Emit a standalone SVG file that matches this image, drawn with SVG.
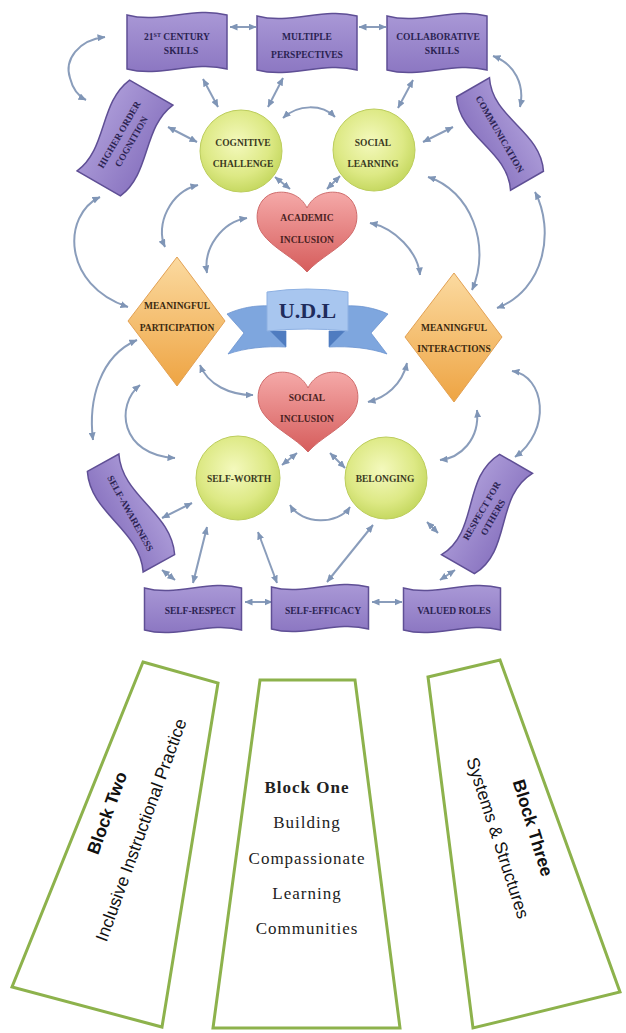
<svg xmlns="http://www.w3.org/2000/svg" width="626" height="1033" viewBox="0 0 626 1033">
  <defs>
    <linearGradient id="gPurple" x1="0" y1="0" x2="0" y2="1">
      <stop offset="0" stop-color="#a998d6"/>
      <stop offset="1" stop-color="#8c77c2"/>
    </linearGradient>
    <radialGradient id="gCircle" cx="0.45" cy="0.4" r="0.62">
      <stop offset="0" stop-color="#f4f9bd"/>
      <stop offset="0.65" stop-color="#dde985"/>
      <stop offset="1" stop-color="#c4d75e"/>
    </radialGradient>
    <linearGradient id="gHeart" x1="0" y1="0" x2="0" y2="1">
      <stop offset="0" stop-color="#f5a9a8"/>
      <stop offset="1" stop-color="#d65d5c"/>
    </linearGradient>
    <linearGradient id="gDiamond" x1="0" y1="0" x2="0" y2="1">
      <stop offset="0" stop-color="#fbdaa0"/>
      <stop offset="1" stop-color="#eea443"/>
    </linearGradient>
    <marker id="ah" viewBox="0 0 8 7" refX="7.5" refY="3.5" markerWidth="8" markerHeight="7" markerUnits="userSpaceOnUse" orient="auto-start-reverse">
      <path d="M0,0 L8,3.5 L0,7 Z" fill="#7f95b6"/>
    </marker>
  </defs>
  <style>
    .arr{fill:none;stroke:#8a9dbb;stroke-width:2;marker-start:url(#ah);marker-end:url(#ah)}
    .ban{fill:url(#gPurple);stroke:#5f4f95;stroke-width:1.5}
    .cir{fill:url(#gCircle);stroke:#bccd5c;stroke-width:1}
    .hrt{fill:url(#gHeart);stroke:#cf6b6b;stroke-width:1}
    .dia{fill:url(#gDiamond);stroke:#e2a154;stroke-width:1}
    .lbl{font-family:"Liberation Serif",serif;font-weight:bold;font-size:9.5px;text-anchor:middle}
    .tp{fill:#2b2352}
    .tc{fill:#3b3a22}
    .th{fill:#4a2222}
    .td{fill:#3d2a10}
    .blk{fill:#fff;stroke:#8db24c;stroke-width:3;stroke-linejoin:miter}
    .ser{font-family:"Liberation Serif",serif;font-size:17px;letter-spacing:1px;text-anchor:middle;fill:#222}
    .sans{font-family:"Liberation Sans",sans-serif;font-size:17.5px;text-anchor:middle;fill:#111}
  </style>

  <rect width="626" height="1033" fill="#ffffff"/>

  <!-- connectors -->
  <g id="connectors">
    <path class="arr" d="M230,27 L256,27"/>
    <path class="arr" d="M359,27 L386,27"/>
    <path class="arr" d="M203,79 L218,107"/>
    <path class="arr" d="M283,78 L268,107"/>
    <path class="arr" d="M168,127 L197,142"/>
    <path class="arr" d="M413,80 L398,108"/>
    <path class="arr" d="M453,127 L423,142"/>
    <path class="arr" d="M275,177 L290,189"/>
    <path class="arr" d="M340,176 L327,189"/>
    <path class="arr" d="M297,453 L282,465"/>
    <path class="arr" d="M330,453 L345,468"/>
    <path class="arr" d="M192,503 L162,518"/>
    <path class="arr" d="M207,527 L193,583"/>
    <path class="arr" d="M258,532 L277,583"/>
    <path class="arr" d="M373,525 L327,582"/>
    <path class="arr" d="M427,522 L438,533"/>
    <path class="arr" d="M162,570 L175,580"/>
    <path class="arr" d="M455,570 L440,580"/>
    <path class="arr" d="M245,602 L272,602"/>
    <path class="arr" d="M372,602 L402,602"/>

    <path class="arr" d="M105,37 C78,40 64,60 70,78 C73,90 78,96 86,100"/>
    <path class="arr" d="M493,56 C515,64 525,85 520,107"/>
    <path class="arr" d="M283,118 C298,104 322,104 335,117"/>
    <path class="arr" d="M198,185 C170,192 155,225 165,247"/>
    <path class="arr" d="M247,218 C222,222 203,248 207,273"/>
    <path class="arr" d="M370,223 C395,228 418,252 420,275"/>
    <path class="arr" d="M428,177 C470,190 492,245 472,290"/>
    <path class="arr" d="M535,192 C555,230 545,290 497,308"/>
    <path class="arr" d="M100,197 C62,215 62,285 128,307"/>
    <path class="arr" d="M512,371 C545,376 552,430 515,457"/>
    <path class="arr" d="M137,340 C100,356 88,400 93,440"/>
    <path class="arr" d="M140,385 C115,405 120,455 175,458"/>
    <path class="arr" d="M200,365 C208,385 230,395 253,395"/>
    <path class="arr" d="M407,363 C402,385 385,398 368,402"/>
    <path class="arr" d="M477,410 C480,440 460,458 440,460"/>
    <path class="arr" d="M290,505 C302,525 338,525 350,507"/>
  </g>

  <!-- top banners -->
  <g id="century-skills" transform="translate(177,42)">
    <path class="ban" d="M-50,-27 C-16.7,-18 16.7,-36 50,-27 L50,27 C16.7,18 -16.7,36 -50,27 Z"/>
    <text class="lbl tp" x="0" y="-2">21<tspan font-size="6" dy="-3">ST</tspan><tspan dy="3"> CENTURY</tspan></text>
    <text class="lbl tp" x="4" y="12">SKILLS</text>
  </g>
  <g id="multiple-perspectives" transform="translate(307,43)">
    <path class="ban" d="M-50,-27 C-16.7,-18 16.7,-36 50,-27 L50,27 C16.7,18 -16.7,36 -50,27 Z"/>
    <text class="lbl tp" x="0" y="-3">MULTIPLE</text>
    <text class="lbl tp" x="0" y="15">PERSPECTIVES</text>
  </g>
  <g id="collaborative-skills" transform="translate(437,43)">
    <path class="ban" d="M-50,-27 C-16.7,-18 16.7,-36 50,-27 L50,27 C16.7,18 -16.7,36 -50,27 Z"/>
    <text class="lbl tp" x="1" y="-3">COLLABORATIVE</text>
    <text class="lbl tp" x="5" y="11">SKILLS</text>
  </g>

  <!-- side banners -->
  <g id="higher-order-cognition" transform="translate(125,138) rotate(-60)">
    <path class="ban" d="M-52.5,-25 C-17.5,-10 17.5,-40 52.5,-25 L52.5,25 C17.5,10 -17.5,40 -52.5,25 Z"/>
    <text class="lbl tp" x="0" y="-3.5">HIGHER ORDER</text>
    <text class="lbl tp" x="0" y="10.5">COGNITION</text>
  </g>
  <g id="communication" transform="translate(500,134) rotate(60)">
    <path class="ban" d="M-54,-19 C-18,-1 18,-37 54,-19 L54,19 C18,1 -18,37 -54,19 Z"/>
    <text class="lbl tp" x="0" y="3.5">COMMUNICATION</text>
  </g>
  <g id="self-awareness" transform="translate(131,513) rotate(61)">
    <path class="ban" d="M-57.5,-18 C-19,0 19,-36 57.5,-18 L57.5,18 C19,0 -19,36 -57.5,18 Z"/>
    <text class="lbl tp" x="0" y="4">SELF-AWARENESS</text>
  </g>
  <g id="respect-for-others" transform="translate(487,514) rotate(-60)">
    <path class="ban" d="M-58,-19 C-19.3,2 19.3,-40 58,-19 L58,19 C19.3,-2 -19.3,40 -58,19 Z"/>
    <text class="lbl tp" x="0" y="-3">RESPECT FOR</text>
    <text class="lbl tp" x="0" y="10">OTHERS</text>
  </g>

  <!-- bottom banners -->
  <g id="self-respect" transform="translate(193,609)">
    <path class="ban" d="M-48.5,-21 C-16.2,-12 16.2,-30 48.5,-21 L48.5,21 C16.2,12 -16.2,30 -48.5,21 Z"/>
    <text class="lbl tp" x="7" y="4.5">SELF-RESPECT</text>
  </g>
  <g id="self-efficacy" transform="translate(320,608)">
    <path class="ban" d="M-48.5,-21 C-16.2,-12 16.2,-30 48.5,-21 L48.5,21 C16.2,12 -16.2,30 -48.5,21 Z"/>
    <text class="lbl tp" x="3" y="5.5">SELF-EFFICACY</text>
  </g>
  <g id="valued-roles" transform="translate(452,609)">
    <path class="ban" d="M-48.5,-21 C-16.2,-12 16.2,-30 48.5,-21 L48.5,21 C16.2,12 -16.2,30 -48.5,21 Z"/>
    <text class="lbl tp" x="2" y="4.5">VALUED ROLES</text>
  </g>

  <!-- circles -->
  <g id="cognitive-challenge">
    <circle class="cir" cx="241" cy="151" r="41"/>
    <text class="lbl tc" x="243" y="145.5">COGNITIVE</text>
    <text class="lbl tc" x="243" y="166.5">CHALLENGE</text>
  </g>
  <g id="social-learning">
    <circle class="cir" cx="374" cy="150" r="41"/>
    <text class="lbl tc" x="373" y="145.5">SOCIAL</text>
    <text class="lbl tc" x="373" y="166.5">LEARNING</text>
  </g>
  <g id="self-worth">
    <circle class="cir" cx="238" cy="478" r="42"/>
    <text class="lbl tc" x="239" y="481.5">SELF-WORTH</text>
  </g>
  <g id="belonging">
    <circle class="cir" cx="386" cy="478" r="41"/>
    <text class="lbl tc" x="385" y="481.5">BELONGING</text>
  </g>

  <!-- hearts -->
  <g id="academic-inclusion" transform="translate(307,192)">
    <path class="hrt" d="M0,16 C-6,3 -20,-2 -33,1 C-49,5 -55,26 -45,41 C-35,56 -12,66 0,80 C12,66 35,56 45,41 C55,26 49,5 33,1 C20,-2 6,3 0,16 Z"/>
    <text class="lbl th" x="0" y="28.5">ACADEMIC</text>
    <text class="lbl th" x="0" y="50.5">INCLUSION</text>
  </g>
  <g id="social-inclusion" transform="translate(308,372)">
    <path class="hrt" d="M0,16 C-6,3 -20,-2 -33,1 C-49,5 -55,26 -45,41 C-35,56 -12,66 0,80 C12,66 35,56 45,41 C55,26 49,5 33,1 C20,-2 6,3 0,16 Z"/>
    <text class="lbl th" x="-1" y="28.5">SOCIAL</text>
    <text class="lbl th" x="-1" y="49.5">INCLUSION</text>
  </g>

  <!-- diamonds -->
  <g id="meaningful-participation">
    <path class="dia" d="M177,257 L225,321 L177,386 L128,321 Z"/>
    <text class="lbl td" x="177" y="308.5">MEANINGFUL</text>
    <text class="lbl td" x="177" y="330.5">PARTICIPATION</text>
  </g>
  <g id="meaningful-interactions">
    <path class="dia" d="M454,273 L502,337 L454,402 L405,337 Z"/>
    <text class="lbl td" x="454" y="330.5">MEANINGFUL</text>
    <text class="lbl td" x="454" y="351.5">INTERACTIONS</text>
  </g>

  <!-- central ribbon -->
  <g id="udl">
    <path d="M270,306 C255,305 240,308 227,314 L244,333 L228,354 C245,348 265,346 286,347 L286,331 L270,331 Z" fill="#7ea6de" stroke="#6b93cf" stroke-width="0.8"/>
    <path d="M270,331 L286,331 L286,347 Z" fill="#4f7cc0"/>
    <path d="M345,306 C360,305 375,308 388,314 L371,333 L387,354 C370,348 350,346 329,347 L329,331 L345,331 Z" fill="#7ea6de" stroke="#6b93cf" stroke-width="0.8"/>
    <path d="M345,331 L329,331 L329,347 Z" fill="#4f7cc0"/>
    <path d="M267,292 Q307,286 348,292 L348,331 Q307,327 267,331 Z" fill="#a8c6ef" stroke="#8db0e2" stroke-width="1"/>
    <text x="307.5" y="318" font-family="Liberation Serif, serif" font-weight="bold" font-size="22" text-anchor="middle" fill="#1f2c5c">U.D.L</text>
  </g>

  <!-- foundation blocks -->
  <g id="block-two">
    <path class="blk" d="M143,662 L218,683 L162,1027 L12,987 Z"/>
    <text class="sans" font-weight="bold" font-size="18" transform="translate(107,813) rotate(-70)" dy="6">Block Two</text>
    <text class="sans" transform="translate(141,830) rotate(-70)" dy="6">Inclusive Instructional Practice</text>
  </g>
  <g id="block-one">
    <path class="blk" d="M260,680 L355,680 L400,1028 L213,1028 Z"/>
    <text class="ser" font-weight="bold" x="307" y="793">Block One</text>
    <text class="ser" x="307" y="828">Building</text>
    <text class="ser" x="307" y="864">Compassionate</text>
    <text class="ser" x="307" y="899">Learning</text>
    <text class="ser" x="307" y="934">Communities</text>
  </g>
  <g id="block-three">
    <path class="blk" d="M428,677 L500,660 L620,992 L473,1028 Z"/>
    <text class="sans" font-weight="bold" font-size="18" transform="translate(533,828) rotate(73)" dy="6">Block Three</text>
    <text class="sans" transform="translate(498,838) rotate(72)" dy="6">Systems &amp; Structures</text>
  </g>
</svg>
